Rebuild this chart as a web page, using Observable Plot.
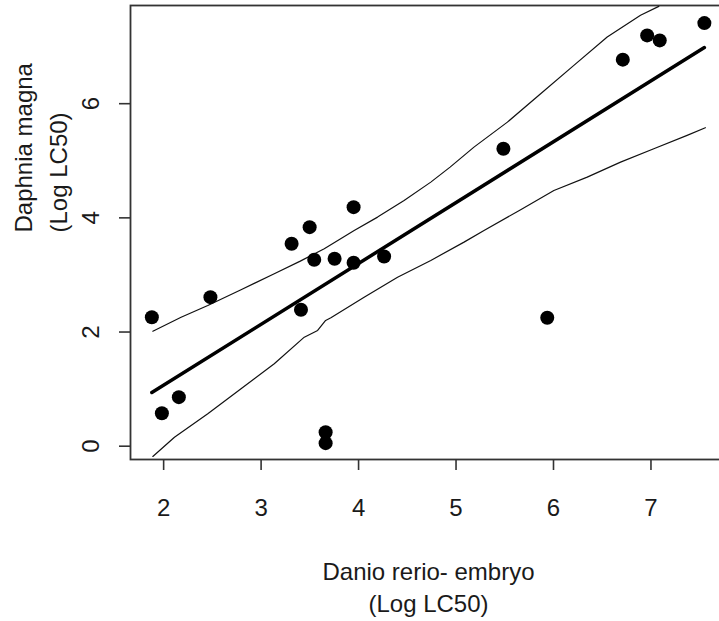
<!DOCTYPE html>
<html>
<head>
<meta charset="utf-8">
<script src="https://cdn.jsdelivr.net/npm/d3@7"></script>
<script src="https://cdn.jsdelivr.net/npm/@observablehq/plot@0.6"></script>
<style>
  html, body { margin: 0; padding: 0; background: #fff; overflow: hidden; }
  #chart { width: 719px; height: 621px; overflow: hidden; }
  #chart svg { display: block; max-width: none !important; }
</style>
</head>
<body>
<div id="chart"></div>
<script>
// Log LC50 of each compound: zebrafish embryo (x) vs. Daphnia magna (y)
const danioX = [1.879, 1.982, 2.156, 2.480, 3.313, 3.409, 3.498, 3.545, 3.662, 3.662,
                3.754, 3.949, 3.949, 4.262, 5.486, 5.936, 6.711, 6.961, 7.090, 7.548];
const daphniaY = [2.26, 0.578, 0.859, 2.611, 3.547, 2.390, 3.837, 3.266, 0.245, 0.053,
                  3.284, 4.188, 3.214, 3.324, 5.211, 2.250, 6.771, 7.196, 7.109, 7.412];

// Upper and lower 95% limits around the fitted line
const upperX = [1.889, 2.179, 2.453, 2.794, 3.135, 3.402, 3.648, 3.955, 4.195, 4.467,
                4.741, 4.939, 5.184, 5.527, 5.868, 6.209, 6.551, 6.893, 7.080];
const upperY = [2.015, 2.260, 2.465, 2.741, 3.021, 3.242, 3.459, 3.780, 4.013, 4.305,
                4.626, 4.889, 5.239, 5.677, 6.175, 6.671, 7.167, 7.548, 7.705];
const lowerX = [1.889, 2.111, 2.453, 2.794, 3.135, 3.443, 3.580, 3.662, 3.716, 4.057,
                4.400, 4.741, 5.082, 5.287, 5.663, 6.004, 6.346, 6.688, 7.029, 7.371, 7.558];
const lowerY = [-0.180, 0.158, 0.568, 1.006, 1.444, 1.910, 2.027, 2.203, 2.250, 2.611,
                2.961, 3.254, 3.575, 3.780, 4.142, 4.480, 4.714, 4.976, 5.211, 5.444, 5.579];

const xTicks = [2, 3, 4, 5, 6, 7];
const yTicks = [0, 2, 4, 6];

const xTitle = ["Danio rerio- embryo", "(Log LC50)"];
const yTitle = ["Daphnia magna", "(Log LC50)"];

const points = danioX.map((x, i) => ({x, y: daphniaY[i]}));
const upper = upperX.map((x, i) => ({x, y: upperY[i]}));
const lower = lowerX.map((x, i) => ({x, y: lowerY[i]}));

const ink = "#1a1a1a";
const font = "Liberation Sans, Arial, sans-serif";

const chart = Plot.plot({
  width: 726,
  height: 621,
  marginLeft: 130,
  marginRight: 0,
  marginTop: 5,
  marginBottom: 162,
  style: {fontFamily: font, fontSize: "24px", color: ink, background: "#fff", maxWidth: "none"},
  x: {domain: [1.66, 7.775]},
  y: {domain: [-0.233, 7.72]},
  marks: [
    Plot.frame({stroke: "#333", strokeWidth: 1.8}),
    Plot.axisX(xTicks, {tickSize: 11, tickPadding: 28, stroke: "#333", strokeWidth: 1.6,
                        tickFormat: d3.format("d"), fontSize: 24, fill: ink, label: null}),
    Plot.axisY(yTicks, {tickSize: 11, tickPadding: 21, tickRotate: -90, stroke: "#333",
                        strokeWidth: 1.6, tickFormat: d3.format("d"), fontSize: 24, fill: ink,
                        label: null}),
    Plot.line(upper, {x: "x", y: "y", stroke: "#111", strokeWidth: 1.2, clip: true}),
    Plot.line(lower, {x: "x", y: "y", stroke: "#111", strokeWidth: 1.2, clip: true}),
    Plot.linearRegressionY(points, {x: "x", y: "y", ci: 0, stroke: "#000", strokeWidth: 3.5}),
    Plot.dot(points, {x: "x", y: "y", r: 7, fill: "#000", stroke: "none"}),
    Plot.text([xTitle[0]], {frameAnchor: "bottom", dy: 113, lineAnchor: "middle",
                            fontSize: 24, fill: ink}),
    Plot.text([xTitle[1]], {frameAnchor: "bottom", dy: 145, lineAnchor: "middle",
                            fontSize: 24, fill: ink}),
    Plot.text([yTitle[0]], {frameAnchor: "left", dx: -106, rotate: -90, lineAnchor: "middle",
                            fontSize: 24, fill: ink}),
    Plot.text([yTitle[1]], {frameAnchor: "left", dx: -71, rotate: -90, lineAnchor: "middle",
                            fontSize: 24, fill: ink})
  ]
});

document.getElementById("chart").appendChild(chart);
</script>
</body>
</html>
